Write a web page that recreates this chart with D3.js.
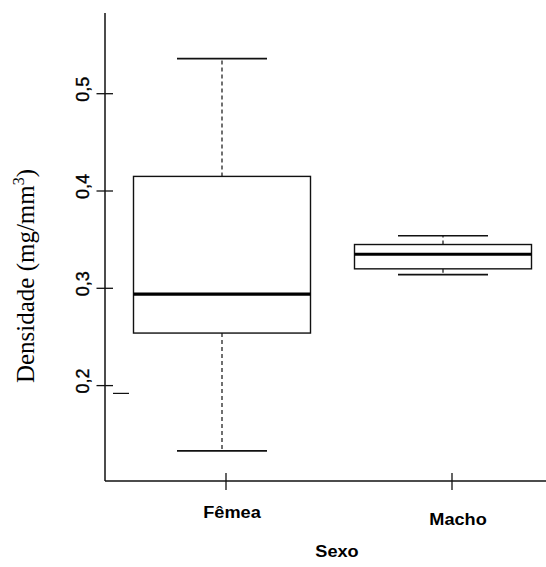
<!DOCTYPE html>
<html><head><meta charset="utf-8">
<script src="https://cdn.jsdelivr.net/npm/d3@7"></script>
<style>html,body{margin:0;padding:0;background:#fff;}svg{display:block;}</style>
</head><body>
<script>
// ---- data ----
const categories = ["Fêmea", "Macho"];
const whiskerLow  = [0.133, 0.314];
const boxLow      = [0.254, 0.320];
const medians     = [0.294, 0.335];
const boxHigh     = [0.415, 0.345];
const whiskerHigh = [0.536, 0.354];
const yTickValues = [0.2, 0.3, 0.4, 0.5];
const yTickLabels = ["0,2", "0,3", "0,4", "0,5"];
const strayMarks  = [0.192];
const xTitle = "Sexo";
const yTitle = "Densidade (mg/mm";

const W = 546, H = 567;
const svg = d3.select("body").append("svg").attr("width", W).attr("height", H);

const y = d3.scaleLinear().domain([0.3, 0.5]).range([288.3, 93.7]);
const xBox = d3.scalePoint().domain(categories).range([222, 443]);
const xTick = d3.scalePoint().domain(categories).range([226, 452]);
const boxW = 177, capW = 90;
const axisX = 105, axisY = 481, axisTop = 13;
const ink = "#111";

// axes lines
svg.append("line").attr("x1", axisX).attr("x2", axisX).attr("y1", axisTop).attr("y2", axisY)
  .attr("stroke", ink).attr("stroke-width", 1.5);
svg.append("line").attr("x1", axisX).attr("x2", W).attr("y1", axisY).attr("y2", axisY)
  .attr("stroke", ink).attr("stroke-width", 1.5);

// y ticks (crossing axis)
const yt = svg.append("g");
yt.selectAll("line").data(yTickValues).join("line")
  .attr("x1", axisX - 8.5).attr("x2", axisX + 8)
  .attr("y1", d => y(d)).attr("y2", d => y(d))
  .attr("stroke", ink).attr("stroke-width", 1.3);
yt.selectAll("text").data(yTickValues).join("text")
  .attr("transform", d => `translate(88.5,${y(d) - 4.5}) rotate(-90)`)
  .attr("text-anchor", "middle")
  .attr("font-family", "Liberation Sans, Arial, sans-serif")
  .attr("font-size", 18).attr("fill", "#000")
  .attr("stroke", "#000").attr("stroke-width", 0.35)
  .text((d, i) => yTickLabels[i]);

// stray mark near axis
svg.selectAll("line.stray").data(strayMarks).join("line").attr("class", "stray")
  .attr("x1", axisX + 8).attr("x2", axisX + 24)
  .attr("y1", d => y(d)).attr("y2", d => y(d))
  .attr("stroke", ink).attr("stroke-width", 1.2);

// x ticks
const xt = svg.append("g");
xt.selectAll("line").data(categories).join("line")
  .attr("x1", d => xTick(d)).attr("x2", d => xTick(d))
  .attr("y1", axisY - 8).attr("y2", axisY + 9)
  .attr("stroke", ink).attr("stroke-width", 1.3);
const labelDy = [517.5, 525];
xt.selectAll("text").data(categories).join("text")
  .attr("transform", (d, i) => `translate(${xTick(d) + 6},${labelDy[i]}) scale(1.1,1)`)
  .attr("text-anchor", "middle")
  .attr("font-family", "Liberation Sans, Arial, sans-serif")
  .attr("font-weight", "bold").attr("font-size", 16.5).attr("fill", "#000")
  .text(d => d);

// x title
svg.append("text").attr("transform", "translate(337,556.5) scale(1.1,1)")
  .attr("text-anchor", "middle")
  .attr("font-family", "Liberation Sans, Arial, sans-serif")
  .attr("font-weight", "bold").attr("font-size", 16.5).attr("fill", "#000")
  .text(xTitle);

// y title
const yt2 = svg.append("text").attr("transform", "translate(34,276) rotate(-90)")
  .attr("text-anchor", "middle")
  .attr("font-family", "Liberation Serif, Times New Roman, serif")
  .attr("font-size", 25).attr("fill", "#000");
yt2.append("tspan").text(yTitle);
yt2.append("tspan").attr("font-size", 16).attr("dy", -10).text("3");
yt2.append("tspan").attr("dy", 10).text(")");

// boxes
const g = svg.append("g");
categories.forEach((c, i) => {
  const cx = xBox(c);
  g.append("line").attr("x1", cx).attr("x2", cx).attr("y1", y(boxHigh[i])).attr("y2", y(whiskerHigh[i]))
    .attr("stroke", ink).attr("stroke-width", 1.2).attr("stroke-dasharray", "4,3");
  g.append("line").attr("x1", cx).attr("x2", cx).attr("y1", y(boxLow[i])).attr("y2", y(whiskerLow[i]))
    .attr("stroke", ink).attr("stroke-width", 1.2).attr("stroke-dasharray", "4,3");
  [whiskerHigh[i], whiskerLow[i]].forEach(v => {
    g.append("line").attr("x1", cx - capW / 2).attr("x2", cx + capW / 2).attr("y1", y(v)).attr("y2", y(v))
      .attr("stroke", ink).attr("stroke-width", 1.7);
  });
  g.append("rect").attr("x", cx - boxW / 2).attr("width", boxW)
    .attr("y", y(boxHigh[i])).attr("height", y(boxLow[i]) - y(boxHigh[i]))
    .attr("fill", "#fff").attr("stroke", ink).attr("stroke-width", 1.4);
  g.append("line").attr("x1", cx - boxW / 2).attr("x2", cx + boxW / 2)
    .attr("y1", y(medians[i])).attr("y2", y(medians[i]))
    .attr("stroke", "#000").attr("stroke-width", 3.2);
});
</script>
</body></html>
